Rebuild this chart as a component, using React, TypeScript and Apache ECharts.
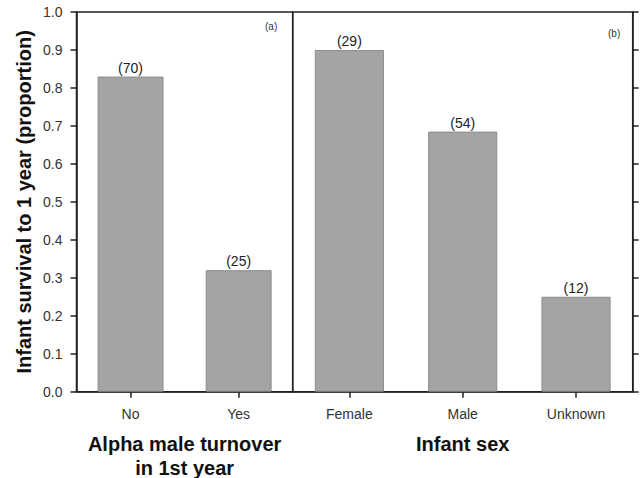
import React, { useEffect, useRef } from "react";
import * as echarts from "echarts";

const turnoverCats = ["No", "Yes"];
const turnoverVals = [0.83, 0.32];
const turnoverN = ["(70)", "(25)"];

const sexCats = ["Female", "Male", "Unknown"];
const sexVals = [0.9, 0.685, 0.25];
const sexN = ["(29)", "(54)", "(12)"];

const FONT = "Liberation Sans, Arial, sans-serif";

export default function App() {
  const ref = useRef<HTMLDivElement>(null);
  useEffect(() => {
    const chart = echarts.init(ref.current!, null, { renderer: "svg" });
    const axisLine = { show: true, lineStyle: { color: "#222", width: 1.5 } };
    const tick = { show: true, length: 6, lineStyle: { color: "#222", width: 1.5 } };
    const barStyle = { color: "#a4a4a4", borderColor: "#8c8c8c", borderWidth: 1 };
    const nameStyle = { fontSize: 20, fontWeight: "bold", color: "#111", lineHeight: 24, verticalAlign: "top" };
    chart.setOption({
      animation: false,
      textStyle: { fontFamily: FONT },
      grid: [
        { left: 76.5, right: 347.3, top: 12, bottom: 86.3, show: true, borderColor: "#222", borderWidth: 1.5, outerBoundsMode: "none", containLabel: false },
        { left: 292.7, right: 7.3, top: 12, bottom: 86.3, show: true, borderColor: "#222", borderWidth: 1.5, outerBoundsMode: "none", containLabel: false },
      ],
      xAxis: [
        {
          type: "category", gridIndex: 0, data: turnoverCats,
          axisLine, axisTick: { ...tick, alignWithLabel: true },
          axisLabel: { color: "#333", fontSize: 14, margin: 15 },
          name: "Alpha male turnover\nin 1st year", nameLocation: "middle", nameGap: 40,
          nameTextStyle: nameStyle,
        },
        {
          type: "category", gridIndex: 1, data: sexCats,
          axisLine, axisTick: { ...tick, alignWithLabel: true },
          axisLabel: { color: "#333", fontSize: 14, margin: 15 },
          name: "Infant sex", nameLocation: "middle", nameGap: 40,
          nameTextStyle: nameStyle,
        },
      ],
      yAxis: [
        {
          type: "value", gridIndex: 0, min: 0, max: 1, interval: 0.1,
          axisLine, axisTick: tick,
          splitLine: { show: false },
          axisLabel: { color: "#333", fontSize: 14, margin: 14, formatter: (v: number) => v.toFixed(1) },
          name: "Infant survival to 1 year (proportion)", nameLocation: "middle", nameGap: 43,
          nameTextStyle: { fontSize: 20, fontWeight: "bold", color: "#111" },
        },
        {
          type: "value", gridIndex: 1, position: "right", min: 0, max: 1, interval: 0.1,
          axisLine, axisTick: tick,
          splitLine: { show: false }, axisLabel: { show: false },
        },
      ],
      series: [
        {
          type: "bar", xAxisIndex: 0, yAxisIndex: 0, data: turnoverVals, barWidth: "61%",
          itemStyle: barStyle,
          label: { show: true, position: "top", distance: 2, color: "#222", fontSize: 14,
            formatter: (p: any) => turnoverN[p.dataIndex] },
        },
        {
          type: "bar", xAxisIndex: 1, yAxisIndex: 1, data: sexVals, barWidth: "61%",
          itemStyle: barStyle,
          label: { show: true, position: "top", distance: 2, color: "#222", fontSize: 14,
            formatter: (p: any) => sexN[p.dataIndex] },
        },
      ],
      graphic: [
        { type: "text", left: 265, top: 21, style: { text: "(a)", fontSize: 10, fill: "#333", fontFamily: FONT } },
        { type: "text", left: 608, top: 28, style: { text: "(b)", fontSize: 10, fill: "#333", fontFamily: FONT } },
      ],
    });
    return () => chart.dispose();
  }, []);
  return <div ref={ref} style={{ position: "absolute", left: 0, top: 0, width: 640, height: 478 }} />;
}
